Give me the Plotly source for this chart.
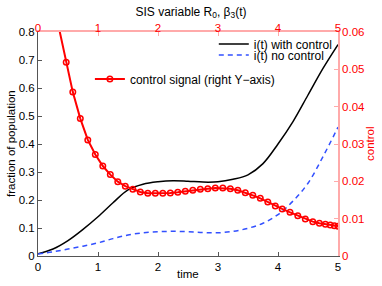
import plotly.graph_objects as go

# ---- data ----
t_state = [0, 0.25, 0.5, 0.75, 1.0, 1.25, 1.5, 1.75, 2.0, 2.25, 2.5, 2.75,
           3.0, 3.25, 3.5, 3.75, 4.0, 4.25, 4.5, 4.75, 5.0]
i_with_control = [0.008, 0.025, 0.055, 0.095, 0.14, 0.19, 0.236, 0.256, 0.265, 0.269,
                  0.267, 0.264, 0.265, 0.274, 0.29, 0.33, 0.40, 0.48, 0.575, 0.67, 0.755]
i_no_control = [0.007, 0.015, 0.025, 0.035, 0.047, 0.062, 0.075, 0.083, 0.087, 0.088,
                0.087, 0.084, 0.083, 0.088, 0.099, 0.117, 0.148, 0.196, 0.26, 0.355, 0.46]

t_control = [0.33, 0.47, 0.58, 0.705, 0.83, 0.955, 1.08, 1.205, 1.33, 1.455, 1.58, 1.705,
             1.83, 1.955, 2.08, 2.205, 2.33, 2.455, 2.58, 2.705, 2.83, 2.955, 3.08,
             3.205, 3.33, 3.455, 3.58, 3.705, 3.83, 3.955, 4.07, 4.2, 4.33, 4.455,
             4.58, 4.69, 4.79, 4.87, 4.94, 5.0]
control = [0.0625, 0.0519, 0.0439, 0.0368, 0.0311, 0.0272, 0.0241, 0.0218, 0.0199,
           0.0187, 0.0179, 0.01714, 0.0168, 0.0168, 0.0168, 0.0169, 0.01705, 0.01733,
           0.0176, 0.0179, 0.0180, 0.0182, 0.0182, 0.0180, 0.0176, 0.01696, 0.01625,
           0.01545, 0.01446, 0.0134, 0.0126, 0.0117, 0.0108, 0.0099, 0.0092, 0.0088,
           0.0085, 0.0083, 0.0081, 0.0080]

FONT = "Liberation Sans, Arial, sans-serif"
RED = "#ff0000"
PINK = "#ffaaaa"
DARK = "#555555"

fig = go.Figure()
fig.add_trace(go.Scatter(x=t_state, y=i_with_control, mode="lines", name="i(t) with control",
                         line=dict(color="black", width=1.5, shape="spline"),
                         xaxis="x", yaxis="y", legend="legend"))
fig.add_trace(go.Scatter(x=t_state, y=i_no_control, mode="lines", name="i(t) no control",
                         line=dict(color="rgb(50,80,255)", width=1.5, dash="5px,4px", shape="spline"),
                         xaxis="x", yaxis="y", legend="legend3"))
fig.add_trace(go.Scatter(x=t_control, y=control, mode="lines+markers",
                         name="control signal (right Y\u2212axis)",
                         line=dict(color=RED, width=2),
                         marker=dict(symbol="circle-open", size=5.5, color=RED,
                                     line=dict(width=1.5, color=RED)),
                         xaxis="x2", yaxis="y2", legend="legend2"))

leg_common = dict(bgcolor="rgba(0,0,0,0)", font=dict(size=12), itemwidth=30,
                  xanchor="left", yanchor="middle", borderwidth=0)

fig.update_layout(
    width=382, height=286,
    margin=dict(l=38, r=44, t=32, b=30, autoexpand=False),
    paper_bgcolor="white", plot_bgcolor="white",
    font=dict(family=FONT, size=11.5, color="black"),
    showlegend=True,
    title=dict(text="SIS variable R<sub>0</sub>, \u03b2<sub>3</sub>(t)", x=0.5, xanchor="center",
               y=0.96, yanchor="middle", font=dict(size=12)),
    xaxis=dict(range=[0, 5], dtick=1, showline=True, linecolor=DARK, linewidth=1,
               ticks="inside", ticklen=4, tickcolor=DARK, showgrid=False, zeroline=False,
               automargin=False),
    yaxis=dict(range=[0, 0.8], dtick=0.1, showline=True, linecolor=DARK, linewidth=1,
               ticks="inside", ticklen=4, tickcolor=DARK, showgrid=False, zeroline=False,
               automargin=False),
    xaxis2=dict(range=[0, 5], dtick=1, overlaying="x", side="top", anchor="y2",
                showline=True, linecolor=PINK, linewidth=1.5, ticks="inside", ticklen=4,
                tickcolor=PINK, tickfont=dict(color=RED), showgrid=False, zeroline=False,
                automargin=False, ticklabelstandoff=-6),
    yaxis2=dict(range=[0, 0.06], dtick=0.01, overlaying="y", side="right", anchor="x2",
                showline=True, linecolor=PINK, linewidth=1.5, ticks="inside", ticklen=4,
                tickcolor=PINK, tickfont=dict(color=RED), showgrid=False, zeroline=False,
                automargin=False),
    legend=dict(x=0.586, y=0.946, **leg_common),
    legend3=dict(x=0.586, y=0.897, **leg_common),
    legend2=dict(x=0.173, y=0.790, **leg_common),
    annotations=[
        dict(text="time", xref="paper", yref="paper", x=0.5, y=-0.0804,
             xanchor="center", yanchor="middle", showarrow=False, font=dict(size=11.5)),
        dict(text="fraction of population", xref="paper", yref="paper", x=-0.09, y=0.5,
             xanchor="center", yanchor="middle", textangle=-90, showarrow=False,
             font=dict(size=11.5)),
        dict(text="control", xref="paper", yref="paper", x=1.1067, y=0.5,
             xanchor="center", yanchor="middle", textangle=-90, showarrow=False,
             font=dict(size=11.5, color=RED)),
    ],
)

fig.write_html("out.html", config={"displayModeBar": False},
               post_script="document.body.style.margin='0';")
